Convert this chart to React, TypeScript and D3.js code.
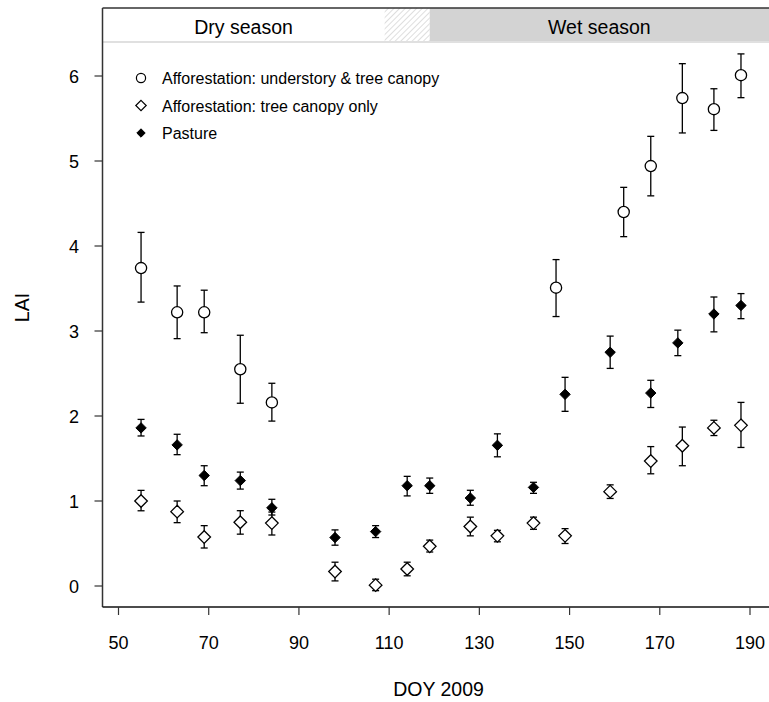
import React from "react";
import * as d3 from "d3";

const xTicks = [50, 70, 90, 110, 130, 150, 170, 190];
const yTicks = [0, 1, 2, 3, 4, 5, 6];

// Afforestation: understory & tree canopy (open circles)
const doyCircle = [55, 63, 69, 77, 84, 147, 162, 168, 175, 182, 188];
const laiCircle = [3.74, 3.22, 3.22, 2.55, 2.16, 3.51, 4.4, 4.94, 5.74, 5.61, 6.01];
const loCircle = [3.34, 2.91, 2.98, 2.15, 1.94, 3.17, 4.11, 4.59, 5.33, 5.36, 5.745];
const hiCircle = [4.16, 3.53, 3.48, 2.95, 2.385, 3.84, 4.69, 5.29, 6.145, 5.85, 6.26];

// Afforestation: tree canopy only (open diamonds)
const doyCanopy = [55, 63, 69, 77, 84, 98, 107, 114, 119, 128, 134, 142, 149, 159, 168, 175, 182, 188];
const laiCanopy = [1.0, 0.875, 0.576, 0.75, 0.74, 0.17, 0.01, 0.2, 0.467, 0.7, 0.59, 0.74, 0.59, 1.11, 1.47, 1.65, 1.86, 1.89];
const loCanopy = [0.885, 0.745, 0.447, 0.61, 0.6, 0.06, -0.055, 0.12, 0.4, 0.59, 0.52, 0.667, 0.5, 1.03, 1.32, 1.415, 1.77, 1.63];
const hiCanopy = [1.125, 1.0, 0.71, 0.886, 0.87, 0.28, 0.08, 0.28, 0.54, 0.81, 0.655, 0.81, 0.675, 1.19, 1.64, 1.87, 1.95, 2.16];

// Pasture (filled diamonds)
const doyPasture = [55, 63, 69, 77, 84, 98, 107, 114, 119, 128, 134, 142, 149, 159, 168, 174, 182, 188];
const laiPasture = [1.86, 1.66, 1.3, 1.24, 0.92, 0.57, 0.64, 1.18, 1.18, 1.035, 1.655, 1.16, 2.255, 2.75, 2.27, 2.86, 3.2, 3.3];
const loPasture = [1.765, 1.545, 1.18, 1.14, 0.835, 0.48, 0.57, 1.06, 1.09, 0.95, 1.52, 1.09, 2.055, 2.56, 2.1, 2.71, 2.99, 3.145];
const hiPasture = [1.96, 1.785, 1.415, 1.34, 1.02, 0.66, 0.71, 1.29, 1.27, 1.126, 1.79, 1.22, 2.455, 2.94, 2.42, 3.01, 3.4, 3.44];

const seasonLabels = ["Dry season", "Wet season"];
const dryEnd = 109;
const wetStart = 119;

const legendLabels = [
  "Afforestation: understory & tree canopy",
  "Afforestation: tree canopy only",
  "Pasture",
];

const W = 769;
const H = 702;
const FONT = "'Liberation Sans', Arial, Helvetica, sans-serif";

const x = d3.scaleLinear().domain([50, 190]).range([118.5, 750]);
const y = d3.scaleLinear().domain([0, 6]).range([586, 76]);

const boxL = 102.5;
const boxR = 769;
const boxT = 8;
const boxB = 607;
const bandB = 42;

function diamond(cx: number, cy: number, r: number) {
  return `M${cx},${cy - r}L${cx + r},${cy}L${cx},${cy + r}L${cx - r},${cy}Z`;
}

function ErrorBars({ xs, lo, hi }: { xs: number[]; lo: number[]; hi: number[] }) {
  const cap = 3.5;
  return (
    <g stroke="#000" strokeWidth={1.3} fill="none">
      {xs.map((d, i) => {
        const px = x(d);
        const y1 = y(lo[i]);
        const y2 = y(hi[i]);
        return (
          <g key={i}>
            <line x1={px} x2={px} y1={y1} y2={y2} />
            <line x1={px - cap} x2={px + cap} y1={y1} y2={y1} />
            <line x1={px - cap} x2={px + cap} y1={y2} y2={y2} />
          </g>
        );
      })}
    </g>
  );
}

export default function App() {
  const hatchX1 = x(dryEnd);
  const hatchX2 = x(wetStart);
  return (
    <svg
      width={W}
      height={H}
      style={{ position: "absolute", left: 0, top: 0, background: "#fff" }}
      fontFamily={FONT}
    >
      <defs>
        <pattern id="hatch" patternUnits="userSpaceOnUse" width={4} height={4} patternTransform="rotate(45)">
          <line x1={0} y1={0} x2={0} y2={4} stroke="#c8c8c8" strokeWidth={1.2} />
        </pattern>
      </defs>

      {/* season band */}
      <rect x={boxL} y={boxT} width={hatchX1 - boxL} height={bandB - boxT} fill="#fff" />
      <rect x={hatchX1} y={boxT} width={hatchX2 - hatchX1} height={bandB - boxT} fill="url(#hatch)" />
      <rect x={hatchX2} y={boxT} width={boxR - hatchX2} height={bandB - boxT} fill="#d3d3d3" />
      <line x1={boxL} x2={boxR} y1={bandB} y2={bandB} stroke="#e0e0e0" strokeWidth={2} />
      <text x={(boxL + hatchX1) / 2} y={34} textAnchor="middle" fontSize={19.5} fill="#000">
        {seasonLabels[0]}
      </text>
      <text x={(hatchX2 + boxR) / 2} y={34} textAnchor="middle" fontSize={19.5} fill="#000">
        {seasonLabels[1]}
      </text>

      {/* box */}
      <line x1={boxL} x2={boxR} y1={boxT} y2={boxT} stroke="#333" strokeWidth={1.5} />
      <line x1={boxL} x2={boxL} y1={boxT} y2={boxB} stroke="#333" strokeWidth={1.5} />
      <line x1={boxL} x2={boxR} y1={boxB} y2={boxB} stroke="#111" strokeWidth={1.5} />

      {/* y axis */}
      {yTicks.map((t) => (
        <g key={t}>
          <line x1={boxL - 8} x2={boxL} y1={y(t)} y2={y(t)} stroke="#333" strokeWidth={1.2} />
          <text x={79} y={y(t) + 6.5} textAnchor="end" fontSize={18} fill="#000">
            {t}
          </text>
        </g>
      ))}
      <text
        transform={`translate(29,${(boxT + boxB) / 2}) rotate(-90)`}
        textAnchor="middle"
        fontSize={19.5}
        fill="#000"
      >
        LAI
      </text>

      {/* x axis */}
      {xTicks.map((t) => (
        <g key={t}>
          <line x1={x(t)} x2={x(t)} y1={boxB} y2={boxB + 8} stroke="#333" strokeWidth={1.2} />
          <text x={x(t)} y={649} textAnchor="middle" fontSize={18} fill="#000">
            {t}
          </text>
        </g>
      ))}
      <text x={438.5} y={696} textAnchor="middle" fontSize={19.5} fill="#000">
        DOY 2009
      </text>

      {/* error bars */}
      <ErrorBars xs={doyCircle} lo={loCircle} hi={hiCircle} />
      <ErrorBars xs={doyCanopy} lo={loCanopy} hi={hiCanopy} />
      <ErrorBars xs={doyPasture} lo={loPasture} hi={hiPasture} />

      {/* markers */}
      <g stroke="#000" strokeWidth={1.3} fill="#fff">
        {doyCircle.map((d, i) => (
          <circle key={i} cx={x(d)} cy={y(laiCircle[i])} r={5.6} />
        ))}
        {doyCanopy.map((d, i) => (
          <path key={i} d={diamond(x(d), y(laiCanopy[i]), 6.3)} />
        ))}
      </g>
      <g fill="#000" stroke="#000" strokeWidth={1}>
        {doyPasture.map((d, i) => (
          <path key={i} d={diamond(x(d), y(laiPasture[i]), 5.2)} />
        ))}
      </g>

      {/* legend */}
      <g>
        <circle cx={141} cy={78} r={4.6} fill="#fff" stroke="#000" strokeWidth={1.2} />
        <path d={diamond(141, 105.5, 5.2)} fill="#fff" stroke="#000" strokeWidth={1.2} />
        <path d={diamond(141, 133, 4.2)} fill="#000" stroke="#000" strokeWidth={1} />
        {legendLabels.map((l, i) => (
          <text key={i} x={162} y={78 + i * 27.5 + 6} fontSize={16} fill="#000">
            {l}
          </text>
        ))}
      </g>
    </svg>
  );
}
